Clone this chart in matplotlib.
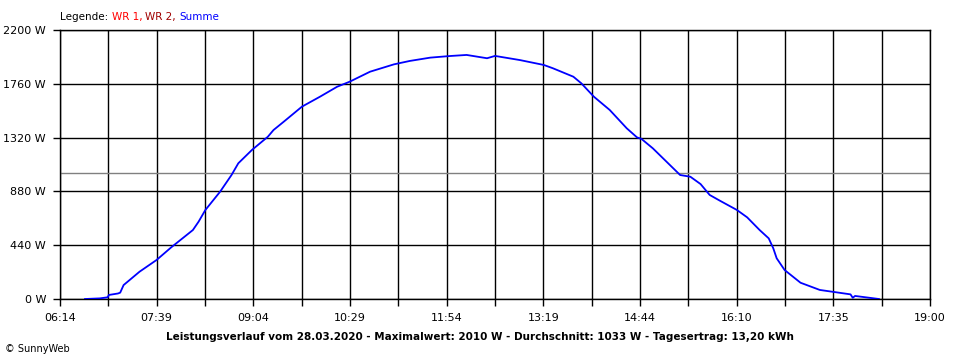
import numpy as np
import matplotlib
matplotlib.use("Agg")
import matplotlib.pyplot as plt

# Leistungsverlauf 28.03.2020 (Summe)
zeiten = ["06:36", "06:49", "06:56", "06:57", "07:05", "07:07", "07:10", "07:24",
          "07:39", "07:52", "08:11", "08:16", "08:22", "08:35", "08:45", "08:51",
          "09:03", "09:17", "09:22", "09:31", "09:47", "10:03", "10:18", "10:29",
          "10:47", "11:08", "11:22", "11:40", "11:57", "12:12", "12:30", "12:37",
          "12:59", "13:20", "13:28", "13:46", "13:53", "14:04", "14:18", "14:33",
          "14:42", "14:46", "14:56", "15:08", "15:20", "15:29", "15:38", "15:46",
          "15:55", "16:10", "16:19", "16:30", "16:38", "16:42", "16:45", "16:52",
          "17:06", "17:23", "17:50", "17:52", "17:54", "18:15"]
watt = [0, 5, 14, 33, 45, 52, 114, 223,
        319, 423, 564, 632, 728, 878, 1014, 1110,
        1219, 1327, 1382, 1450, 1573, 1655, 1736, 1777,
        1859, 1919, 1947, 1974, 1987, 1996, 1969, 1988,
        1954, 1914, 1887, 1818, 1764, 1655, 1546, 1396,
        1322, 1309, 1232, 1123, 1014, 1000, 940, 851,
        804, 728, 668, 564, 496, 415, 333, 237,
        133, 74, 38, 10, 25, 0]
durchschnitt = 1033

tick_labels = ["06:14", "07:39", "09:04", "10:29", "11:54", "13:19",
               "14:44", "16:10", "17:35", "19:00"]
y_ticks = [0, 440, 880, 1320, 1760, 2200]

legende = [("Legende: ", "black"), ("WR 1, ", "#ff0000"),
           ("WR 2, ", "#a00000"), ("Summe", "#0000ff")]


def to_min(s):
    h, m = s.split(":")
    return int(h) * 60 + int(m)


x = np.array([to_min(t) for t in zeiten])
x0, x1 = to_min("06:14"), to_min("19:00")

fig = plt.figure(figsize=(9.6, 3.6), dpi=100)
ax = fig.add_axes([60 / 960, 61 / 360, 870 / 960, 269 / 360])

major = np.linspace(x0, x1, len(tick_labels))
minor = (major[:-1] + major[1:]) / 2
ax.set_xticks(major)
ax.set_xticklabels(tick_labels)
ax.set_xticks(minor, minor=True)
ax.set_yticks(y_ticks)
ax.set_yticklabels([f"{v} W" for v in y_ticks])
ax.set_xlim(x0, x1)
ax.set_ylim(0, 2200)

ax.grid(True, which="both", color="black", linewidth=1)
ax.set_axisbelow(True)
for s in ax.spines.values():
    s.set_color("black")
    s.set_linewidth(1)
ax.tick_params(which="both", direction="out", length=5, width=1, color="black",
               labelsize=8, pad=5)

ax.axhline(durchschnitt, color="#808080", linewidth=1, zorder=1.5)
ax.plot(x, watt, color="#0000ff", linewidth=1.3, zorder=3)

# Legende oben links, Texte hintereinander
renderer = fig.canvas.get_renderer()
px = 60
for txt, col in legende:
    t = fig.text(px / 960, 1 - 17 / 360, txt, fontsize=7.5, va="center",
                 ha="left", color=col)
    px += t.get_window_extent(renderer).width

fig.text(480 / 960, 1 - 337 / 360,
         "Leistungsverlauf vom 28.03.2020 - Maximalwert: 2010 W - Durchschnitt: 1033 W - Tagesertrag: 13,20 kWh",
         fontsize=7.5, fontweight="bold", ha="center", va="center")
fig.text(5 / 960, 1 - 349 / 360, "© SunnyWeb", fontsize=7, ha="left", va="center")

fig.savefig("out.png", dpi=100)
